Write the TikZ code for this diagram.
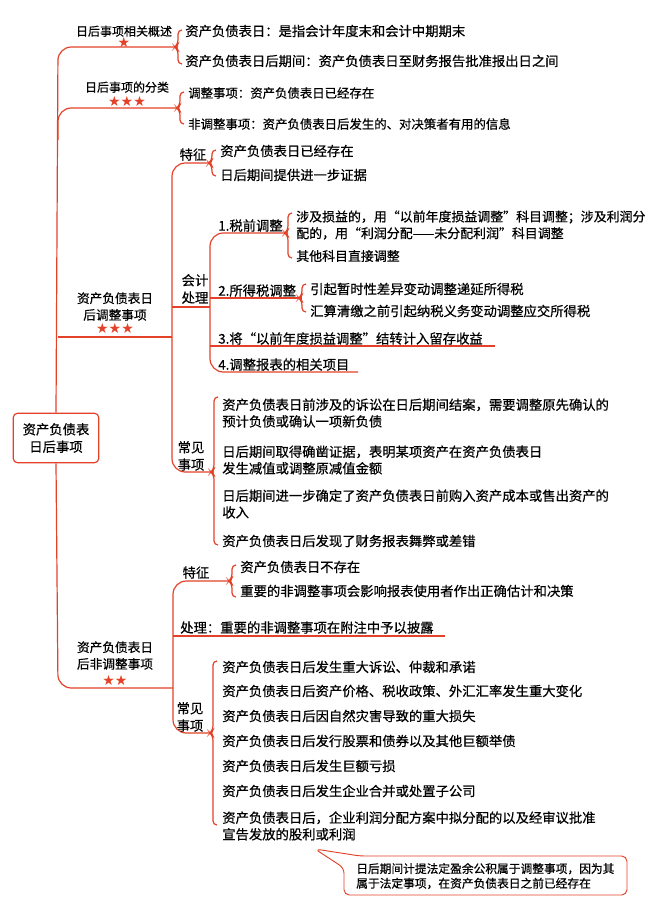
\documentclass[tikz,border=0pt]{standalone}
\usepackage{fontspec}
\setmainfont[FakeBold=0.6]{Noto Sans CJK SC}
\newfontfamily\symf{DejaVu Sans}
\definecolor{lr}{RGB}{228,66,40}
\begin{document}
\begin{tikzpicture}[x=0.75pt,y=-0.75pt,
  ln/.style={draw=lr,line width=0.9pt},
  rc/.style={ln,rounded corners=10pt},
  big/.style={anchor=west,inner sep=0pt,font=\fontsize{10}{12.5}\selectfont,align=left},
  mid/.style={anchor=west,inner sep=0pt,font=\fontsize{9.7}{12.5}\selectfont,align=left},
  sml/.style={anchor=west,inner sep=0pt,font=\fontsize{8.8}{11}\selectfont,align=left},
  lab/.style={anchor=south,inner sep=0pt,font=\fontsize{9}{12}\selectfont,align=center},
  labb/.style={anchor=south west,inner sep=0pt,font=\fontsize{10}{12.5}\selectfont},
  star/.style={inner sep=0pt,text=lr,font=\symf\fontsize{10.5}{10}\selectfont}]
\useasboundingbox (0,0) rectangle (650,918);
\newcommand\brc[4]{\draw[ln,rounded corners=3pt] (#1+4,#2)--(#1,#2)--(#1,#4-3)--(#1-3,#4)--(#1,#4+3)--(#1,#3)--(#1+4,#3);}
% root
\node[draw=lr,line width=0.9pt,rounded corners=3pt,inner sep=0pt,
  text width=64pt,minimum height=37pt,align=center,font=\fontsize{10}{13}\selectfont] (root) at (56,438) {资产负债表\\日后事项};
% trunk
\draw[rc] (178,47)--(58,47)--(root.north);
\draw[rc] (178,108)--(58,108)--(58,140);
\draw[rc] (root.south)--(58,688)--(173,688);
\draw[ln] (58,337)--(172,337);
% branch 1
\node[lab] (l1) at (124,37) {日后事项相关概述};
\node[star] at (124,42) {★};
\brc{178}{30}{64}{47}
\node[big] (a1) at (185,31) {资产负债表日：是指会计年度末和会计中期期末};
\node[big] (a2) at (185,61) {资产负债表日后期间：资产负债表日至财务报告批准报出日之间};
% branch 2
\node[lab] (l2) at (127,93) {日后事项的分类};
\node[star] at (127,101) {★★★};
\brc{180}{92}{124}{108}
\node[sml,font=\fontsize{9.3}{11}\selectfont] (b1) at (188,93) {调整事项：资产负债表日已经存在};
\node[sml,font=\fontsize{9.3}{11}\selectfont] (b2) at (188,124) {非调整事项：资产负债表日后发生的、对决策者有用的信息};
% branch 3
\node[lab,font=\fontsize{9.5}{12.5}\selectfont] (l3) at (115,321) {资产负债表日\\后调整事项};
\node[star] at (115,328) {★★★};
\draw[rc] (210,163)--(172,163)--(172,472)--(214,472);
\node[lab,font=\fontsize{10}{13}\selectfont] at (193,161) {特征};
\brc{212}{150}{176}{163}
\node[big] at (220,151) {资产负债表日已经存在};
\node[big] at (220,175) {日后期间提供进一步证据};
\draw[ln] (172,307)--(210,307);
\node[lab,font=\fontsize{10}{13}\selectfont] at (195,304) {会计\\处理};
\draw[rc] (288,233)--(210,233)--(210,372)--(358,372);
\draw[ln] (210,298)--(302,298);
\draw[ln] (210,346)--(495,346);
\node[labb] at (218,232) {1.税前调整};
\brc{288}{213}{258}{233}
\node[mid] at (296,225) {涉及损益的，用“以前年度损益调整”科目调整；涉及利润分\\配的，用“利润分配——未分配利润”科目调整};
\node[mid] at (296,256) {其他科目直接调整};
\node[labb] at (218,297) {2.所得税调整};
\brc{302}{284}{312}{298}
\node[big] at (310,289) {引起暂时性差异变动调整递延所得税};
\node[big] at (310,311) {汇算清缴之前引起纳税义务变动调整应交所得税};
\node[labb] at (218,345) {3.将“以前年度损益调整”结转计入留存收益};
\node[labb] at (218,371) {4.调整报表的相关项目};
\node[lab,font=\fontsize{10}{13}\selectfont] at (191,471) {常见\\事项};
\brc{214}{397}{545}{472}
\node[big] at (222,413) {资产负债表日前涉及的诉讼在日后期间结案，需要调整原先确认的\\预计负债或确认一项新负债};
\node[big] at (222,460) {日后期间取得确凿证据，表明某项资产在资产负债表日\\发生减值或调整原减值金额};
\node[big] at (222,504) {日后期间进一步确定了资产负债表日前购入资产成本或售出资产的\\收入};
\node[big] at (222,541) {资产负债表日后发现了财务报表舞弊或差错};
% branch 4
\node[lab,font=\fontsize{9.5}{12.5}\selectfont] (l4) at (115,670) {资产负债表日\\后非调整事项};
\node[star] at (115,680) {★★};
\draw[rc] (228,581)--(173,581)--(173,733)--(212,733);
\node[lab,font=\fontsize{10}{13}\selectfont] at (196,579) {特征};
\brc{232}{565}{597}{581}
\node[big] at (240,567) {资产负债表日不存在};
\node[big] at (240,591) {重要的非调整事项会影响报表使用者作出正确估计和决策};
\draw[ln] (173,636)--(445,636);
\node[labb] at (180,634) {处理：重要的非调整事项在附注中予以披露};
\node[lab,font=\fontsize{10}{13}\selectfont] at (190,732) {常见\\事项};
\brc{213}{661}{825}{733}
\node[big] at (222,667) {资产负债表日后发生重大诉讼、仲裁和承诺};
\node[big] at (222,691) {资产负债表日后资产价格、税收政策、外汇汇率发生重大变化};
\node[big] at (222,716) {资产负债表日后因自然灾害导致的重大损失};
\node[big] at (222,741) {资产负债表日后发行股票和债券以及其他巨额举债};
\node[big] at (222,766) {资产负债表日后发生巨额亏损};
\node[big] at (222,791) {资产负债表日后发生企业合并或处置子公司};
\node[big] at (222,826) {资产负债表日后，企业利润分配方案中拟分配的以及经审议批准\\宣告发放的股利或利润};
% callout
\coordinate (tip) at (315,849);
\draw[ln,line width=0.7pt,rounded corners=4pt,fill=white] (344,868)--(344,895)--(627,895)--(627,856)--(360,856)--(tip)--cycle;
\node[sml] (note) at (356,876) {日后期间计提法定盈余公积属于调整事项，因为其\\属于法定事项，在资产负债表日之前已经存在};
\end{tikzpicture}
\end{document}
